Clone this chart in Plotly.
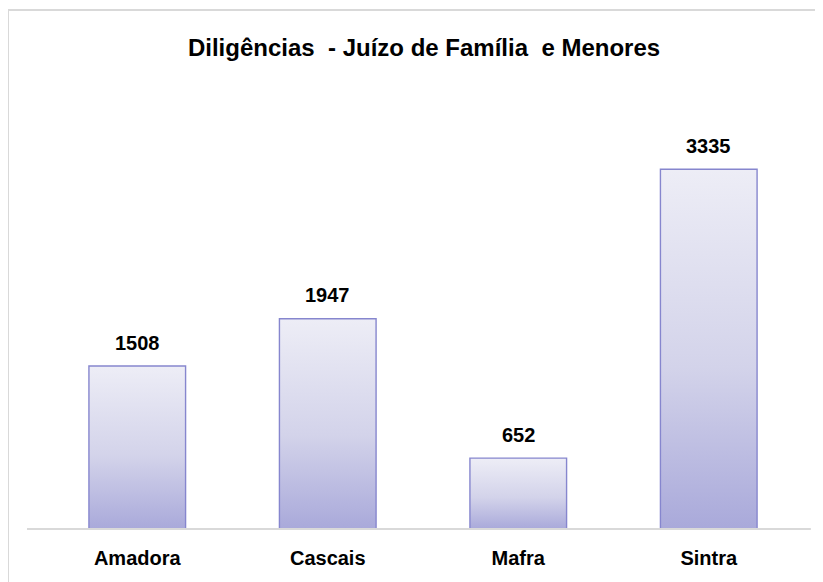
import plotly.graph_objects as go

categories = ["Amadora", "Cascais", "Mafra", "Sintra"]
values = [1508, 1947, 652, 3335]
title_text = "Diligências  - Juízo de Família  e Menores"

FONT = "Liberation Sans, Arial, sans-serif"
bar_w = 0.5
outline = "#8686CE"
grad = [[0, "#A9A9DA"], [0.45, "#D3D3EA"], [1, "#EDEDF6"]]

fig = go.Figure()
xs = list(range(len(categories)))
for i, v in zip(xs, values):
    fig.add_trace(go.Scatter(
        x=[i - bar_w / 2, i + bar_w / 2, i + bar_w / 2, i - bar_w / 2, i - bar_w / 2],
        y=[0, 0, v, v, 0],
        mode="lines", line=dict(width=0), fill="toself",
        fillgradient=dict(type="vertical", colorscale=grad),
        hoverinfo="skip", showlegend=False))

fig.add_trace(go.Bar(
    x=xs, y=values, width=bar_w,
    marker=dict(color="rgba(0,0,0,0)", line=dict(color=outline, width=2.8)),
    cliponaxis=False, showlegend=False))

for i, v in zip(xs, values):
    fig.add_annotation(x=i, y=v, text="<b>%d</b>" % v, showarrow=False,
                       xanchor="center", yanchor="middle", yshift=24,
                       font=dict(family=FONT, size=20, color="#000000"))

fig.update_layout(
    width=823, height=582,
    margin=dict(l=34, r=27, t=92, b=61),
    paper_bgcolor="white", plot_bgcolor="white",
    title=dict(text="<b>" + title_text + "</b>", x=0.5055, xanchor="center",
               y=1 - 40 / 582, yanchor="middle",
               font=dict(family=FONT, size=24, color="#000000")),
    xaxis=dict(range=[-0.5, 3.5], tickvals=xs, ticktext=["<b>%s</b>" % c for c in categories],
               showgrid=False, zeroline=False, showline=False, ticks="",
               ticklabelstandoff=15,
               tickfont=dict(family=FONT, size=20, color="#000000")),
    yaxis=dict(range=[0, 3985], visible=False, showgrid=False, zeroline=False),
)

# chart border and baseline
fig.add_shape(type="rect", xref="paper", yref="paper",
              x0=-0.0446, x1=1.05, y0=-0.2, y1=1.2098,
              line=dict(color="#D9D9D9", width=2), layer="below")
fig.add_shape(type="line", xref="paper", yref="paper",
              x0=-0.0197, x1=1.009, y0=0, y1=0,
              line=dict(color="#D9D9D9", width=2))

fig.write_html("out.html")
